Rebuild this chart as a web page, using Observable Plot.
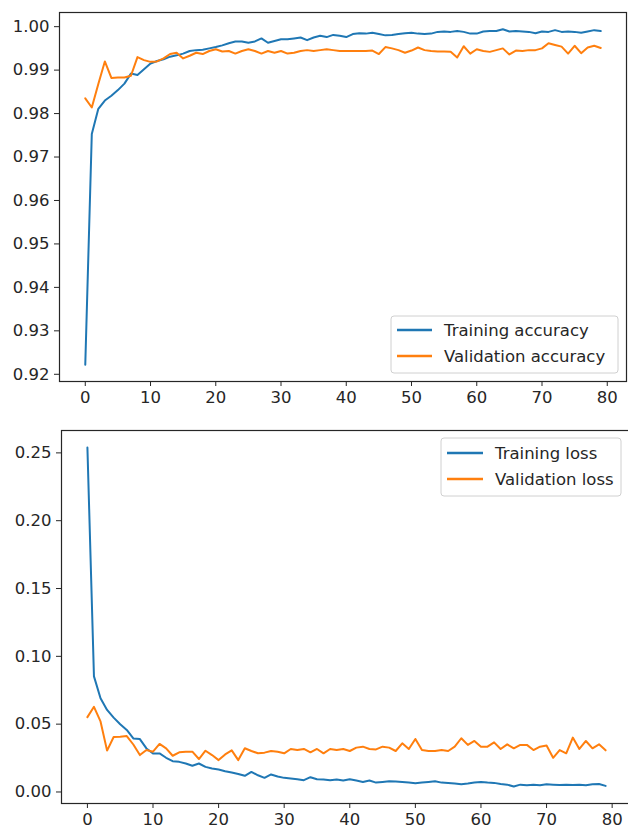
<!DOCTYPE html>
<html>
<head>
<meta charset="utf-8">
<script src="https://cdn.jsdelivr.net/npm/d3@7"></script>
<script src="https://cdn.jsdelivr.net/npm/@observablehq/plot@0.6"></script>
<style>
  html, body { margin: 0; padding: 0; background: #fff; }
  #chart { width: 628px; }
  #chart > svg { display: block; }
</style>
</head>
<body>
<div id="chart"></div>
<script>
const epochs = Array.from({length: 80}, (_, i) => i);
const xTicks = [0, 10, 20, 30, 40, 50, 60, 70, 80];
const accTicks = [0.92, 0.93, 0.94, 0.95, 0.96, 0.97, 0.98, 0.99, 1.00];
const lossTicks = [0.00, 0.05, 0.10, 0.15, 0.20, 0.25];

const trainAcc = [
  0.9222, 0.9753, 0.9811, 0.9830, 0.9841, 0.9854, 0.9869, 0.9892, 0.9889, 0.9902,
  0.9915, 0.9921, 0.9925, 0.9931, 0.9934, 0.9938, 0.9944, 0.9946, 0.9947, 0.9950,
  0.9953, 0.9957, 0.9962, 0.9966, 0.9966, 0.9963, 0.9966, 0.9973, 0.9963, 0.9967,
  0.9971, 0.9971, 0.9973, 0.9975, 0.9969, 0.9975, 0.9979, 0.9976, 0.9981, 0.9979,
  0.9976, 0.9983, 0.9985, 0.9984, 0.9986, 0.9983, 0.9980, 0.9981, 0.9983, 0.9985,
  0.9986, 0.9984, 0.9983, 0.9984, 0.9988, 0.9989, 0.9988, 0.9990, 0.9988, 0.9984,
  0.9984, 0.9989, 0.9990, 0.9990, 0.9994, 0.9989, 0.9990, 0.9989, 0.9988, 0.9985,
  0.9989, 0.9988, 0.9992, 0.9988, 0.9989, 0.9988, 0.9986, 0.9989, 0.9992, 0.9990
];
const valAcc = [
  0.9835, 0.9814, 0.9868, 0.9920, 0.9882, 0.9883, 0.9883, 0.9887, 0.9930, 0.9923,
  0.9919, 0.9920, 0.9927, 0.9937, 0.9940, 0.9927, 0.9933, 0.9940, 0.9937, 0.9944,
  0.9948, 0.9943, 0.9944, 0.9938, 0.9944, 0.9948, 0.9944, 0.9938, 0.9944, 0.9940,
  0.9944, 0.9938, 0.9940, 0.9944, 0.9946, 0.9944, 0.9946, 0.9948, 0.9946, 0.9944,
  0.9944, 0.9944, 0.9944, 0.9944, 0.9945, 0.9937, 0.9953, 0.9950, 0.9946, 0.9940,
  0.9945, 0.9952, 0.9946, 0.9944, 0.9943, 0.9943, 0.9942, 0.9929, 0.9955, 0.9938,
  0.9948, 0.9944, 0.9942, 0.9946, 0.9950, 0.9936, 0.9945, 0.9944, 0.9946, 0.9946,
  0.9950, 0.9962, 0.9958, 0.9954, 0.9938, 0.9956, 0.9939, 0.9952, 0.9956, 0.9951
];
const trainLoss = [
  0.2540, 0.0852, 0.0691, 0.0605, 0.0548, 0.0499, 0.0457, 0.0395, 0.0390, 0.0321,
  0.0284, 0.0284, 0.0252, 0.0227, 0.0222, 0.0210, 0.0193, 0.0210, 0.0185, 0.0173,
  0.0165, 0.0153, 0.0143, 0.0133, 0.0119, 0.0148, 0.0123, 0.0104, 0.0129, 0.0114,
  0.0104, 0.0099, 0.0094, 0.0087, 0.0109, 0.0094, 0.0092, 0.0087, 0.0092, 0.0084,
  0.0094, 0.0084, 0.0074, 0.0084, 0.0069, 0.0074, 0.0079, 0.0077, 0.0074, 0.0069,
  0.0064, 0.0069, 0.0074, 0.0079, 0.0069, 0.0067, 0.0062, 0.0057, 0.0062, 0.0069,
  0.0074, 0.0069, 0.0067, 0.0059, 0.0054, 0.0040, 0.0054, 0.0050, 0.0054, 0.0050,
  0.0057, 0.0054, 0.0052, 0.0054, 0.0052, 0.0054, 0.0050, 0.0057, 0.0059, 0.0045
];
const valLoss = [
  0.0552, 0.0628, 0.0520, 0.0305, 0.0405, 0.0407, 0.0412, 0.0350, 0.0272, 0.0310,
  0.0297, 0.0354, 0.0322, 0.0267, 0.0292, 0.0297, 0.0297, 0.0243, 0.0304, 0.0272,
  0.0235, 0.0277, 0.0307, 0.0235, 0.0322, 0.0302, 0.0285, 0.0290, 0.0302, 0.0297,
  0.0285, 0.0317, 0.0309, 0.0317, 0.0292, 0.0317, 0.0285, 0.0317, 0.0309, 0.0317,
  0.0302, 0.0327, 0.0334, 0.0317, 0.0314, 0.0334, 0.0327, 0.0302, 0.0359, 0.0317,
  0.0391, 0.0309, 0.0302, 0.0302, 0.0309, 0.0302, 0.0334, 0.0396, 0.0347, 0.0376,
  0.0334, 0.0334, 0.0366, 0.0317, 0.0351, 0.0322, 0.0347, 0.0347, 0.0309, 0.0334,
  0.0342, 0.0252, 0.0309, 0.0285, 0.0401, 0.0317, 0.0376, 0.0322, 0.0351, 0.0307
];

const BLUE = "#1f77b4", ORANGE = "#ff7f0e";
const FONT = "'DejaVu Sans', sans-serif";

function padded(arrs) {
  const lo = d3.min(arrs, a => d3.min(a)), hi = d3.max(arrs, a => d3.max(a));
  const m = (hi - lo) * 0.05;
  return [lo - m, hi + m];
}
const xDomain = padded([epochs]);

function panel({a, b, ticks, height, marginTop, marginBottom, marginLeft, marginRight}) {
  return Plot.plot({
    width: 628, height, marginTop, marginBottom, marginLeft, marginRight,
    style: {fontFamily: FONT, fontSize: "16.5px", color: "#262626", background: "transparent", overflow: "visible"},
    x: {domain: xDomain},
    y: {domain: padded([a, b])},
    marks: [
      Plot.line(epochs, {x: d => d, y: i => a[i], stroke: BLUE, strokeWidth: 2}),
      Plot.line(epochs, {x: d => d, y: i => b[i], stroke: ORANGE, strokeWidth: 2}),
      Plot.frame({stroke: "#262626", strokeWidth: 1.2}),
      Plot.axisX({ticks: xTicks, tickSize: 5, tickPadding: 5, label: null, tickFormat: d3.format("d"), fontSize: 16.5}),
      Plot.axisY({ticks, tickSize: 5, tickPadding: 5, label: null, tickFormat: d3.format(".2f"), fontSize: 16.5})
    ]
  });
}

function addLegend(svg, box, lineX, textX, rows) {
  const g = d3.select(svg).append("g").attr("font-family", FONT).attr("font-size", 16.5).attr("text-anchor", "start");
  g.append("rect").attr("x", box[0]).attr("y", box[1]).attr("width", box[2]).attr("height", box[3])
    .attr("rx", 3).attr("fill", "white").attr("fill-opacity", 0.8).attr("stroke", "#d0d0d0").attr("stroke-width", 1);
  rows.forEach(r => {
    g.append("line").attr("x1", lineX[0]).attr("x2", lineX[1]).attr("y1", r.y).attr("y2", r.y)
      .attr("stroke", r.color).attr("stroke-width", 2.5);
    g.append("text").attr("x", textX).attr("y", r.y).attr("dy", "0.35em").attr("text-anchor", "start")
      .attr("fill", "#262626").text(r.label);
  });
}

const accPanel = panel({a: trainAcc, b: valAcc, ticks: accTicks, height: 415, marginTop: 12, marginBottom: 34, marginLeft: 59, marginRight: 2});
addLegend(accPanel, [391, 316, 227, 57], [397, 432], 444, [
  {y: 330, color: BLUE, label: "Training accuracy"},
  {y: 356, color: ORANGE, label: "Validation accuracy"}
]);

const lossPanel = panel({a: trainLoss, b: valLoss, ticks: lossTicks, height: 417, marginTop: 15, marginBottom: 29, marginLeft: 61, marginRight: -3});
addLegend(lossPanel, [441, 23, 180, 58], [447, 483], 495, [
  {y: 38, color: BLUE, label: "Training loss"},
  {y: 64, color: ORANGE, label: "Validation loss"}
]);

document.getElementById("chart").append(accPanel, lossPanel);
</script>
</body>
</html>
